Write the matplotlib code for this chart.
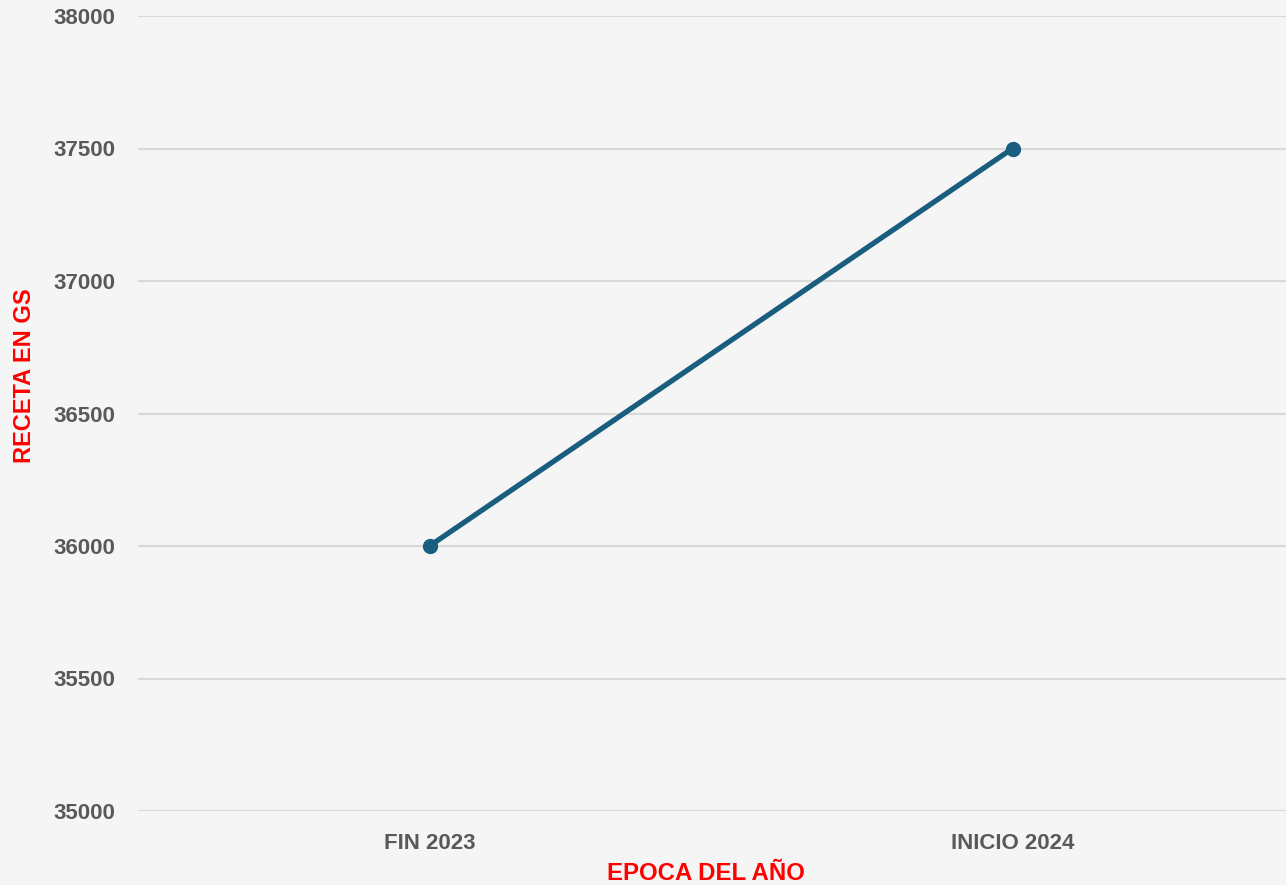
import matplotlib
matplotlib.use("Agg")
import matplotlib.pyplot as plt

categories = ["FIN 2023", "INICIO 2024"]
values = [36000, 37500]
yticks = [35000, 35500, 36000, 36500, 37000, 37500, 38000]

plt.rcParams['font.family'] = ['Liberation Sans', 'DejaVu Sans']

fig = plt.figure(figsize=(12.86, 8.85), dpi=100, facecolor="#f5f5f5")
ax = fig.add_axes([138/1286, 1 - 811/885, 1 - 138/1286, (811 - 16)/885])
ax.set_facecolor("#f5f5f5")

x = list(range(len(categories)))
ax.plot(x, values, color="#1a5e7f", linewidth=3.8, marker="o", markersize=10,
        solid_capstyle="round", zorder=3)

ax.set_xlim(-0.5, -0.5 + 1148/583)
ax.set_ylim(35000, 38000)
ax.set_yticks(yticks)
ax.set_yticklabels([str(v) for v in yticks])
ax.set_xticks(x)
ax.set_xticklabels(categories)

ax.grid(axis="y", color="#d9d9d9", linewidth=1.5, zorder=0)
ax.set_axisbelow(True)
for s in ax.spines.values():
    s.set_visible(False)
ax.tick_params(axis="both", length=0, labelsize=16, labelcolor="#595959")
ax.tick_params(axis="y", pad=16)
ax.tick_params(axis="x", pad=16)
for lbl in ax.get_xticklabels() + ax.get_yticklabels():
    lbl.set_fontweight("bold")

fig.text(706/1286, 1 - 873/885, "EPOCA DEL AÑO", color="red", fontsize=17.3,
         fontweight="bold", ha="center", va="center")
fig.text(25/1286, 1 - 376/885, "RECETA EN GS", color="red", fontsize=17,
         fontweight="bold", ha="center", va="center", rotation=90)

fig.savefig("out.png", dpi=100, facecolor=fig.get_facecolor())
